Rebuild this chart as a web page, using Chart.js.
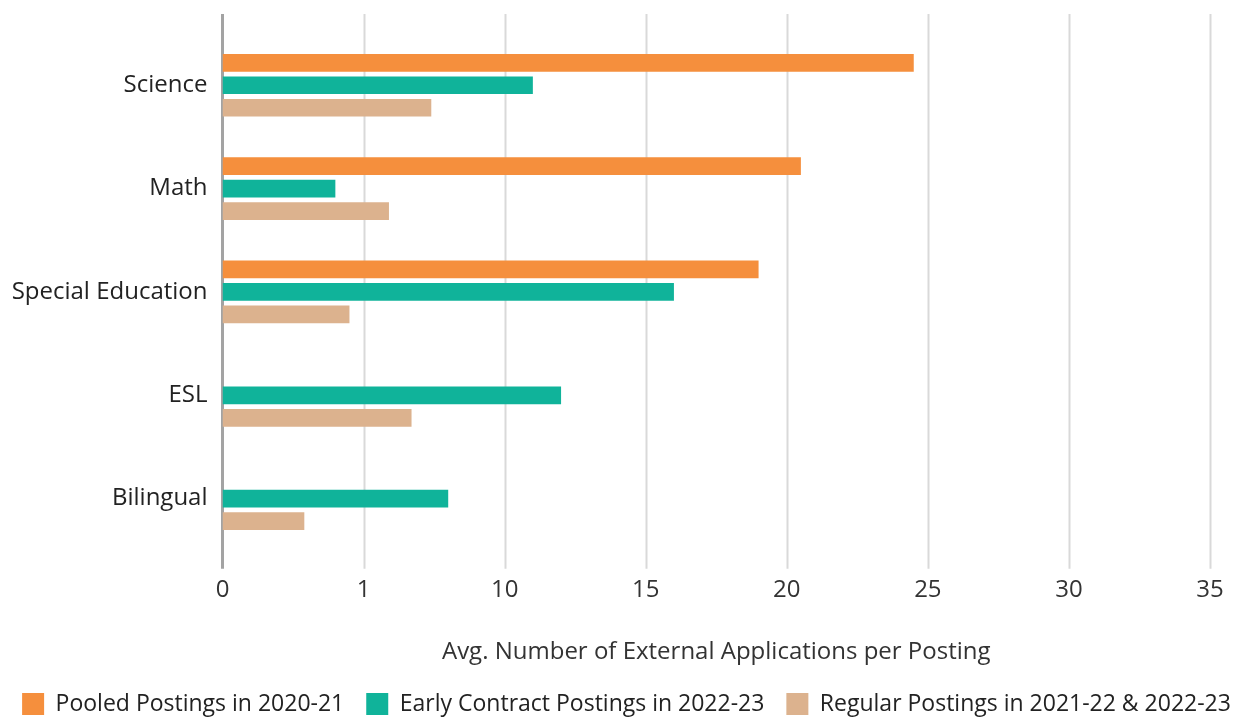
<!DOCTYPE html>
<html>
<head>
<meta charset="utf-8">
<script src="https://cdn.jsdelivr.net/npm/chart.js@4/dist/chart.umd.min.js"></script>
<style>
  html, body { margin: 0; padding: 0; background: #ffffff; }
  #wrap { width: 1253px; height: 719px; position: relative; }
</style>
</head>
<body>
<div id="wrap"><canvas id="c" width="1253" height="719"></canvas></div>
<script>
// Subjects and average external applications per posting
const categories = ['Science', 'Math', 'Special Education', 'ESL', 'Bilingual'];
const pooled2020 = [24.5, 20.5, 19, null, null];
const earlyContract = [11, 4, 16, 12, 8];
const regularPostings = [7.4, 5.9, 4.5, 6.7, 2.9];
const xTickValues = [0, 5, 10, 15, 20, 25, 30, 35];
const xTickLabels = ['0', '1', '10', '15', '20', '25', '30', '35'];

const seriesNames = ['Pooled Postings in 2020-21', 'Early Contract Postings in 2022-23', 'Regular Postings in 2021-22 & 2022-23'];
const seriesColors = ['#F58F3D', '#10B39A', '#DCB28E'];

const FONT = "'Open Sans', 'DejaVu Sans', sans-serif";

// Vertical grid lines and the value axis line, running a little past the plot area
const extendedGrid = {
  id: 'extendedGrid',
  beforeDatasetsDraw(chart) {
    const { ctx, chartArea, scales } = chart;
    const x = scales.x;
    const top = chartArea.top - 19.5;
    const bottom = chartArea.bottom + 18.5;
    ctx.save();
    xTickValues.forEach(v => {
      if (v === 0) return;
      const px = Math.round(x.getPixelForValue(v)) + 0.5;
      ctx.strokeStyle = '#D9D9D9';
      ctx.lineWidth = 2;
      ctx.beginPath();
      ctx.moveTo(px, top);
      ctx.lineTo(px, bottom);
      ctx.stroke();
    });
    const p0 = x.getPixelForValue(0);
    ctx.strokeStyle = '#A3A3A3';
    ctx.lineWidth = 3;
    ctx.beginPath();
    ctx.moveTo(p0, top);
    ctx.lineTo(p0, bottom);
    ctx.stroke();
    ctx.restore();
  }
};

new Chart(document.getElementById('c'), {
  type: 'bar',
  data: {
    labels: categories,
    datasets: [
      { label: seriesNames[0], data: pooled2020, backgroundColor: seriesColors[0] },
      { label: seriesNames[1], data: earlyContract, backgroundColor: seriesColors[1] },
      { label: seriesNames[2], data: regularPostings, backgroundColor: seriesColors[2] }
    ]
  },
  options: {
    indexAxis: 'y',
    responsive: false,
    animation: false,
    devicePixelRatio: 1,
    datasets: {
      bar: { categoryPercentage: 0.653, barPercentage: 0.787, borderWidth: 0 }
    },
    layout: { padding: { left: 0, right: 0, top: 33.6, bottom: -6.5 } },
    scales: {
      x: {
        type: 'linear',
        min: 0,
        max: 35,
        afterBuildTicks(scale) {
          scale.ticks = xTickValues.map(v => ({ value: v }));
        },
        afterFit(scale) { scale.paddingRight = 43; },
        grid: { display: false, drawTicks: false },
        border: { display: false },
        ticks: {
          padding: 25,
          color: '#333333',
          font: { family: FONT, size: 24 },
          callback(value) {
            const i = xTickValues.indexOf(value);
            return i >= 0 ? xTickLabels[i] : '';
          }
        },
        title: {
          display: true,
          text: 'Avg. Number of External Applications per Posting',
          color: '#333333',
          font: { family: FONT, size: 24 },
          padding: { top: 9, bottom: 3.6 }
        }
      },
      y: {
        afterFit(scale) { scale.width = 222.5; },
        grid: { display: false, drawTicks: false },
        border: { display: false },
        ticks: {
          padding: 15,
          color: '#222222',
          font: { family: FONT, size: 24 }
        }
      }
    },
    plugins: {
      legend: {
        position: 'bottom',
        labels: {
          boxWidth: 22,
          boxHeight: 22,
          padding: 22,
          color: '#222222',
          font: { family: FONT, size: 23 }
        }
      },
      tooltip: { enabled: false }
    }
  },
  plugins: [extendedGrid]
});
</script>
</body>
</html>
